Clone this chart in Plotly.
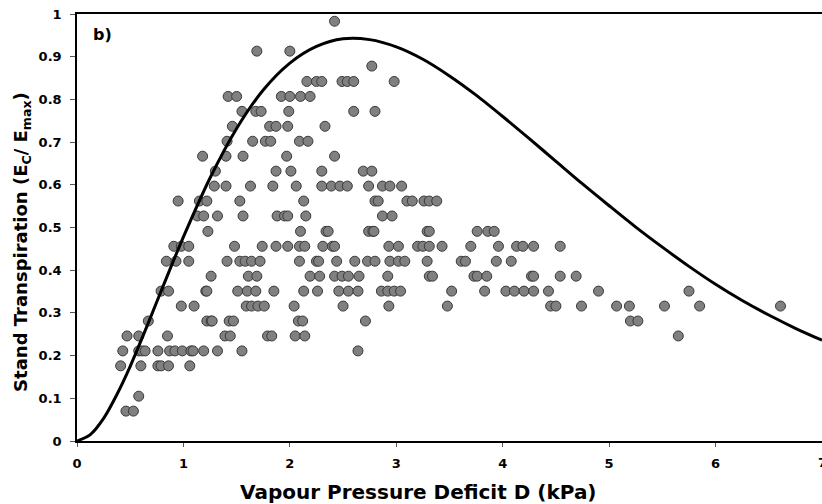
import plotly.graph_objects as go

# Observed points, grouped by row (stand transpiration level) -> VPD values (kPa)
row_levels = [0.070, 0.105, 0.176, 0.211, 0.246, 0.281, 0.316, 0.351, 0.386, 0.421,
              0.456, 0.491, 0.527, 0.562, 0.597, 0.632, 0.667, 0.702, 0.737, 0.772,
              0.807, 0.842, 0.878, 0.913, 0.983]
row_vpd = [
    [0.46, 0.53],
    [0.58],
    [0.41, 0.60, 0.76, 0.79, 0.86, 1.06],
    [0.43, 0.58, 0.61, 0.64, 0.76, 0.87, 0.92, 0.99, 1.07, 1.09, 1.19, 1.32, 1.55, 2.64],
    [0.47, 0.58, 0.85, 1.39, 1.44, 1.79, 1.83, 2.05, 2.14, 5.65],
    [0.67, 1.22, 1.26, 1.27, 1.43, 1.47, 2.08, 2.12, 2.71, 5.20, 5.27],
    [0.98, 1.10, 1.59, 1.64, 1.70, 1.76, 2.04, 2.50, 2.93, 3.48, 4.45, 4.50, 4.74, 5.07,
     5.19, 5.52, 5.85, 6.61],
    [0.79, 0.86, 1.21, 1.22, 1.51, 1.60, 1.68, 1.85, 2.13, 2.26, 2.46, 2.55, 2.64, 2.86,
     2.92, 2.98, 3.04, 3.52, 3.83, 4.03, 4.11, 4.20, 4.29, 4.43, 4.90, 5.75],
    [1.26, 1.61, 1.69, 2.19, 2.28, 2.42, 2.49, 2.55, 2.65, 2.92, 3.31, 3.34, 3.73, 3.76,
     3.85, 4.27, 4.29, 4.54, 4.69],
    [0.84, 0.93, 1.05, 1.41, 1.53, 1.58, 1.64, 1.72, 2.09, 2.25, 2.27, 2.44, 2.61, 2.73,
     2.80, 2.94, 3.02, 3.08, 3.29, 3.61, 3.65, 3.94, 4.08],
    [0.91, 0.98, 1.05, 1.48, 1.74, 1.87, 1.98, 2.09, 2.14, 2.31, 2.40, 2.42, 2.93, 3.02,
     3.20, 3.25, 3.31, 3.43, 3.70, 3.96, 4.13, 4.19, 4.29, 4.54],
    [1.23, 2.10, 2.34, 2.36, 2.74, 2.78, 2.79, 3.29, 3.31, 3.76, 3.86, 3.92],
    [1.13, 1.19, 1.32, 1.56, 1.88, 1.95, 1.98, 2.15, 2.87, 2.96],
    [0.95, 1.15, 1.22, 1.53, 2.13, 2.80, 2.83, 3.10, 3.15, 3.26, 3.31, 3.38],
    [1.29, 1.40, 1.63, 1.84, 2.06, 2.30, 2.39, 2.47, 2.54, 2.74, 2.87, 2.94, 3.05],
    [1.30, 1.87, 2.01, 2.30, 2.69, 2.77],
    [1.18, 1.40, 1.56, 1.97, 2.42],
    [1.41, 1.65, 1.77, 1.82, 2.09, 2.17],
    [1.46, 1.81, 1.87, 1.98, 2.33],
    [1.55, 1.68, 1.73, 1.99, 2.60, 2.80],
    [1.42, 1.50, 1.92, 2.00, 2.10, 2.19],
    [2.16, 2.25, 2.30, 2.49, 2.54, 2.60, 2.98],
    [2.77],
    [1.69, 2.00],
    [2.42],
]

# Model curve
curve_vpd = [0, 0.125, 0.25, 0.375, 0.5, 0.625, 0.75, 0.875, 1.0, 1.25, 1.5, 1.75, 2.0,
             2.25, 2.5, 2.75, 3.0, 3.25, 3.5, 3.75, 4.0, 4.25, 4.5, 4.75, 5.0, 5.25, 5.5,
             5.75, 6.0, 6.25, 6.5, 6.75, 7.0]
curve_ec = [0, 0.015, 0.053, 0.109, 0.175, 0.249, 0.326, 0.403, 0.478, 0.616, 0.732,
            0.822, 0.885, 0.924, 0.942, 0.940, 0.923, 0.894, 0.855, 0.810, 0.760, 0.708,
            0.655, 0.602, 0.551, 0.501, 0.454, 0.409, 0.367, 0.329, 0.295, 0.264, 0.236]

x_ticks = [0, 1, 2, 3, 4, 5, 6, 7]
y_ticks = [0, 0.1, 0.2, 0.3, 0.4, 0.5, 0.6, 0.7, 0.8, 0.9, 1]
y_tick_text = ["0", "0.1", "0.2", "0.3", "0.4", "0.5", "0.6", "0.7", "0.8", "0.9", "1"]

x_title = "<b>Vapour Pressure Deficit D (kPa)</b>"
y_title = "<b>Stand Transpiration (E<sub>C</sub>/ E<sub>max</sub>)</b>"
panel_label = "<b>b)</b>"

pts_x, pts_y = [], []
for lvl, xs in zip(row_levels, row_vpd):
    for v in xs:
        pts_x.append(v)
        pts_y.append(lvl)

FONT = "DejaVu Sans"

fig = go.Figure()
fig.add_trace(go.Scatter(
    x=pts_x, y=pts_y, mode="markers",
    marker=dict(size=10, color="#808080", line=dict(color="#3a3a3a", width=1)),
    showlegend=False, cliponaxis=False,
))
fig.add_trace(go.Scatter(
    x=curve_vpd, y=curve_ec, mode="lines",
    line=dict(color="black", width=3, shape="spline", smoothing=0.8),
    showlegend=False,
))

fig.update_layout(
    width=822, height=504,
    margin=dict(l=77, r=0, t=14, b=63),
    paper_bgcolor="white", plot_bgcolor="white",
    font=dict(family=FONT, color="black"),
    xaxis=dict(
        range=[0, 7], tickvals=x_ticks, ticks="outside", ticklen=4, tickwidth=1,
        tickcolor="#555", showline=True, linecolor="black", linewidth=1.5, mirror=True,
        showgrid=False, zeroline=False, ticklabelstandoff=6,
        tickfont=dict(family=FONT, size=13, color="black", weight="bold"),
    ),
    yaxis=dict(
        range=[0, 1], tickvals=y_ticks, ticktext=y_tick_text, ticks="outside", ticklen=5,
        tickwidth=1, tickcolor="#555", showline=True, linecolor="black", linewidth=1.5,
        showgrid=False, zeroline=False, ticklabelstandoff=6,
        tickfont=dict(family=FONT, size=13, color="black", weight="bold"),
    ),
    annotations=[
        dict(text=x_title, xref="paper", yref="paper", x=0.459, y=-0.119,
             xanchor="center", yanchor="middle", showarrow=False,
             font=dict(family=FONT, size=20, color="black")),
        dict(text=y_title, xref="paper", yref="paper", x=-0.074, y=0.466,
             xanchor="center", yanchor="middle", showarrow=False, textangle=-90,
             font=dict(family=FONT, size=18, color="black")),
        dict(text=panel_label, xref="paper", yref="paper", x=0.019, y=0.953,
             xanchor="left", yanchor="middle", showarrow=False,
             font=dict(family=FONT, size=16, color="black")),
        dict(text="<b>7</b>", xref="x", yref="paper", x=7, y=0, yshift=-21,
             xanchor="center", yanchor="middle", showarrow=False,
             font=dict(family=FONT, size=13, color="black")),
    ],
)

fig.write_html("out.html")
